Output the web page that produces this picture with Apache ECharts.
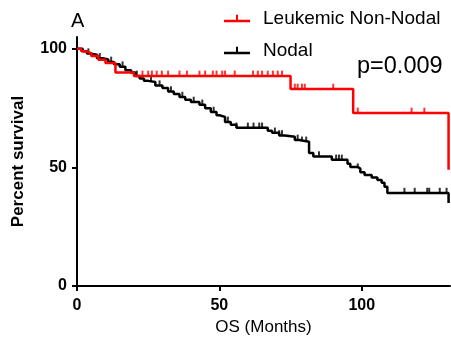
<!DOCTYPE html>
<html>
<head>
<meta charset="utf-8">
<script src="https://cdn.jsdelivr.net/npm/echarts@6/dist/echarts.min.js"></script>
<style>
  html, body { margin: 0; padding: 0; background: #fff; }
  #chart { width: 451px; height: 345px; }
</style>
</head>
<body>
<div id="chart"></div>
<script>
// Kaplan-Meier step points (months, percent surviving after the event)
const leukTimes = [0, 1.5, 3, 5, 7.5, 10, 13.5, 20, 75, 97, 130.5];
const leukSurv = [100, 99, 98.2, 97, 95.4, 94, 90, 88.6, 83.1, 73, 49];
const leukCensor = [23, 25, 26.3, 28, 29.8, 32, 36, 38.6, 43, 45, 47.7, 49, 51, 52, 55.4, 61.8, 63.5, 65, 67, 68.8, 70.5, 72,
    76.5, 77.5, 79, 80, 90, 98.6, 117.5, 122];

const nodalTimes = [0, 2, 3.5, 5, 7, 9, 11, 13, 15, 17, 19, 20.5, 22, 23.5, 25, 27.5, 30, 32, 34, 36, 38, 40, 43, 45, 47, 49, 50,
    52, 54, 56, 67, 68.5, 71, 73, 76.5, 78, 81.5, 83, 89.5, 95, 96, 98.5, 99.5, 101, 103.5, 105.5, 107, 108, 109, 130.5];
const nodalSurv = [100, 99, 98, 97.5, 96, 95.5, 94.5, 93.5, 92.5, 91, 90, 88.6, 87.5, 86.5, 86, 84.5, 83.5, 82, 81, 79.7, 78.5,
    77.6, 76.4, 75, 73.4, 72, 71.3, 69.2, 68, 66.7, 65.5, 64.6, 63.5, 62.9, 61.6, 60.8, 56.1, 54.6, 53.2, 51.5, 50.2, 49.5,
    48, 46.8, 45.8, 44.7, 43.5, 41.8, 39.2, 35];
const nodalCensor = [4, 8, 12, 16, 21, 26, 29, 33, 37, 41, 44, 48, 52, 53, 56, 60, 62, 64, 65, 69.5, 71, 72, 77.5, 79, 80.5,
    85, 91, 92, 93, 98.6, 115, 118.6, 123, 123.7, 127.4, 129.8];

const xTicks = [0, 50, 100];
const yTicks = [0, 50, 100];

function stepValue(times, surv, t) {
    let v = surv[0];
    for (let i = 0; i < times.length; i++) {
        if (times[i] <= t) v = surv[i];
    }
    return v;
}

const legendIcon = "path://M0,7H26V9.5H0Z M12,2H14V7H12Z";
const font = "Liberation Sans, Arial, sans-serif";

const chart = echarts.init(document.getElementById("chart"));
const option = {
    animation: false,
    backgroundColor: "#fff",
    title: {
        text: "A",
        left: 66,
        top: 6,
        textStyle: { fontFamily: font, fontSize: 20, fontWeight: "normal", color: "#000" },
    },
    legend: [
        {
            data: [{ name: "Leukemic Non-Nodal", icon: legendIcon }],
            left: 219, top: 4,
            itemWidth: 26, itemHeight: 10,
            textStyle: { fontFamily: font, fontSize: 19, color: "#000", padding: [0, 0, 0, 8] },
        },
        {
            data: [{ name: "Nodal", icon: legendIcon }],
            left: 219, top: 36,
            itemWidth: 26, itemHeight: 10,
            textStyle: { fontFamily: font, fontSize: 19, color: "#000", padding: [0, 0, 0, 8] },
        },
    ],
    graphic: [{
        type: "text",
        left: 357, top: 55,
        style: { text: "p=0.009", fontFamily: font, fontSize: 23.5, fill: "#000" },
    }],
    grid: { left: 77, right: 1, top: 37, bottom: 59 },
    xAxis: {
        type: "value",
        min: 0, max: 131,
        name: "OS (Months)",
        nameLocation: "middle",
        nameGap: 32,
        nameTextStyle: { fontFamily: font, fontSize: 17, color: "#000" },
        axisLine: { lineStyle: { color: "#000", width: 2 } },
        axisTick: { show: true, length: 5, lineStyle: { color: "#000", width: 2 }, customValues: xTicks },
        axisLabel: { customValues: xTicks, margin: 12, fontFamily: font, fontSize: 16, fontWeight: "bold", color: "#000" },
        splitLine: { show: false },
    },
    yAxis: {
        type: "value",
        min: 0, max: 105,
        name: "Percent survival",
        nameLocation: "middle",
        nameGap: 50,
        nameTextStyle: { fontFamily: font, fontSize: 17, fontWeight: "bold", color: "#000" },
        axisLine: { show: true, lineStyle: { color: "#000", width: 2 } },
        axisTick: { show: true, length: 5, lineStyle: { color: "#000", width: 2 }, customValues: yTicks },
        axisLabel: { customValues: yTicks, margin: 10, fontFamily: font, fontSize: 16, fontWeight: "bold", color: "#000" },
        splitLine: { show: false },
    },
    series: [
        {
            name: "Nodal",
            type: "line",
            step: "end",
            symbol: "none",
            color: "#000",
            lineStyle: { color: "#000", width: 2.5 },
            data: nodalTimes.map((t, i) => [t, nodalSurv[i]]),
            z: 2,
        },
        {
            name: "Nodal",
            type: "scatter",
            symbol: "rect",
            symbolSize: [2, 4.5],
            symbolOffset: [0, -3],
            itemStyle: { color: "#000" },
            data: nodalCensor.map(t => [t, stepValue(nodalTimes, nodalSurv, t)]),
            z: 2,
        },
        {
            name: "Leukemic Non-Nodal",
            type: "line",
            step: "end",
            symbol: "none",
            color: "#ff0000",
            lineStyle: { color: "#ff0000", width: 2.5 },
            data: leukTimes.map((t, i) => [t, leukSurv[i]]),
            z: 3,
        },
        {
            name: "Leukemic Non-Nodal",
            type: "scatter",
            symbol: "rect",
            symbolSize: [2, 4.5],
            symbolOffset: [0, -3],
            itemStyle: { color: "#ff0000" },
            data: leukCensor.map(t => [t, stepValue(leukTimes, leukSurv, t)]),
            z: 3,
        },
    ],
};
chart.setOption(option);
</script>
</body>
</html>
